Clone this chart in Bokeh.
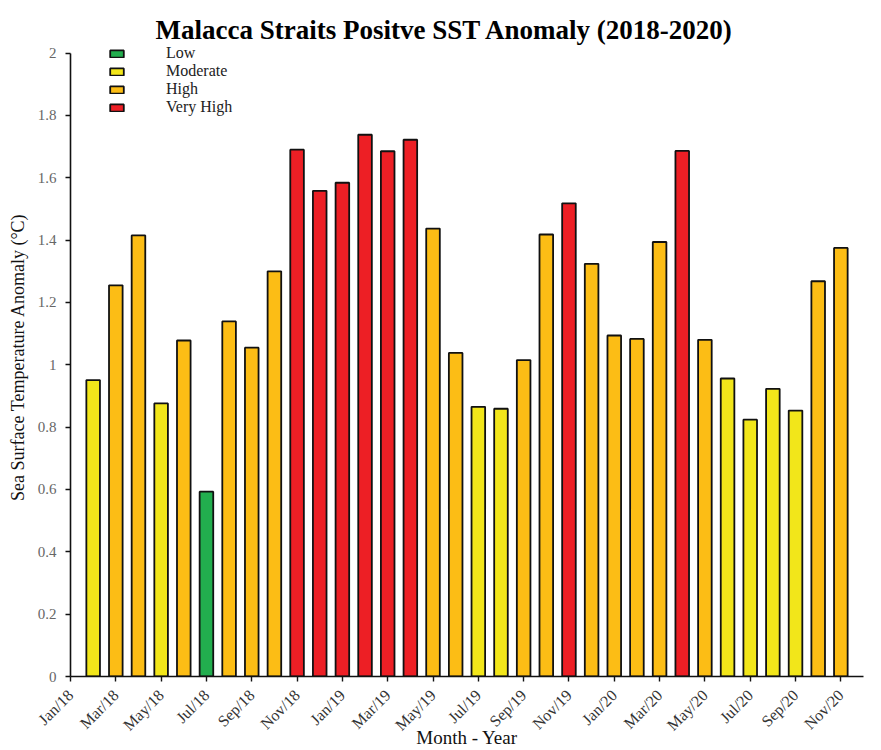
import math
from bokeh.plotting import figure
from bokeh.models import Range1d, FixedTicker, Legend, LegendItem
from bokeh.embed import file_html
from bokeh.resources import INLINE

# ---- data ----
month_abbr = ["Jan", "Feb", "Mar", "Apr", "May", "Jun",
              "Jul", "Aug", "Sep", "Oct", "Nov", "Dec"]
years = ["18", "19", "20"]
period_labels = [f"{m}/{y}" for y in years for m in month_abbr]

bar_months = ["Feb/18", "Mar/18", "Apr/18", "May/18", "Jun/18", "Jul/18",
              "Aug/18", "Sep/18", "Oct/18", "Nov/18", "Dec/18", "Jan/19",
              "Feb/19", "Mar/19", "Apr/19", "May/19", "Jun/19", "Jul/19",
              "Aug/19", "Sep/19", "Oct/19", "Nov/19", "Dec/19", "Jan/20",
              "Feb/20", "Mar/20", "Apr/20", "May/20", "Jun/20", "Jul/20",
              "Aug/20", "Sep/20", "Oct/20", "Nov/20"]
anomaly = [0.951, 1.255, 1.415, 0.876, 1.078, 0.593,
           1.139, 1.055, 1.300, 1.690, 1.558, 1.584,
           1.738, 1.685, 1.722, 1.437, 1.038, 0.865,
           0.859, 1.015, 1.418, 1.518, 1.324, 1.094,
           1.083, 1.394, 1.686, 1.080, 0.956, 0.824,
           0.923, 0.853, 1.268, 1.375]
level = ["Moderate", "High", "High", "Moderate", "High", "Low",
         "High", "High", "High", "Very High", "Very High", "Very High",
         "Very High", "Very High", "Very High", "High", "High", "Moderate",
         "Moderate", "High", "High", "Very High", "High", "High",
         "High", "High", "Very High", "High", "Moderate", "Moderate",
         "Moderate", "Moderate", "High", "High"]

levels = ["Low", "Moderate", "High", "Very High"]
level_colors = ["#22AE4E", "#F2E61A", "#FCBD15", "#ED1F25"]

x_tick_labels = ["Jan/18", "Mar/18", "May/18", "Jul/18", "Sep/18", "Nov/18",
                 "Jan/19", "Mar/19", "May/19", "Jul/19", "Sep/19", "Nov/19",
                 "Jan/20", "Mar/20", "May/20", "Jul/20", "Sep/20", "Nov/20"]
y_ticks = [0, 0.2, 0.4, 0.6, 0.8, 1.0, 1.2, 1.4, 1.6, 1.8, 2.0]
y_tick_labels = ["0", "0.2", "0.4", "0.6", "0.8", "1", "1.2", "1.4", "1.6", "1.8", "2"]

# ---- figure ----
SERIF = "Liberation Serif"

p = figure(width=873, height=750, output_backend="svg", toolbar_location=None,
           x_range=Range1d(0, len(period_labels) - 1), y_range=Range1d(0, 2.05),
           min_border_left=70, min_border_right=10, min_border_top=37,
           min_border_bottom=73)
p.outline_line_color = None
p.xgrid.visible = False
p.ygrid.visible = False

p.title.text = "Malacca Straits Positve SST Anomaly (2018-2020)"
p.title.text_font = SERIF
p.title.text_font_size = "27px"
p.title.text_font_style = "bold"
p.title.text_color = "#000000"
p.title.align = "left"
p.title.offset = 85
p.title.standoff = -15

items = []
for lv, col in zip(levels, level_colors):
    xs = [period_labels.index(m) for m, l in zip(bar_months, level) if l == lv]
    tops = [v for v, l in zip(anomaly, level) if l == lv]
    r = p.vbar(x=xs, top=tops, bottom=0, width=0.6, fill_color=col,
               line_color="#111111", line_width=1.8)
    items.append(LegendItem(label=lv, renderers=[r]))

legend = Legend(items=items, location=(38, 560), border_line_color=None,
                background_fill_alpha=0, padding=0, margin=0, spacing=0,
                glyph_width=17, glyph_height=9, label_height=17,
                label_standoff=41, label_text_font=SERIF,
                label_text_font_size="16px", label_text_color="#222222")
p.add_layout(legend, "center")

# axes
tick_pos = [period_labels.index(t) for t in x_tick_labels]
p.xaxis.ticker = FixedTicker(ticks=tick_pos)
p.xaxis.major_label_overrides = {t: l for t, l in zip(tick_pos, x_tick_labels)}
p.xaxis.major_label_orientation = math.pi / 4
p.yaxis.ticker = FixedTicker(ticks=y_ticks)
p.yaxis.major_label_overrides = {t: l for t, l in zip(y_ticks, y_tick_labels)}
p.yaxis.bounds = (0, 2)

for ax in (p.xaxis[0], p.yaxis[0]):
    ax.axis_line_color = "#111111"
    ax.axis_line_width = 1.6
    ax.major_tick_line_color = "#111111"
    ax.major_tick_line_width = 1.4
    ax.major_tick_in = 0
    ax.major_tick_out = 5
    ax.minor_tick_line_color = None
    ax.major_label_text_font = SERIF
    ax.axis_label_text_font = SERIF
    ax.axis_label_text_font_style = "normal"
    ax.axis_label_text_color = "#111111"

p.yaxis.major_label_text_font_size = "15px"
p.xaxis.major_label_text_font_size = "16px"
p.yaxis.major_label_text_color = "#666666"
p.xaxis.major_label_text_color = "#333333"
p.yaxis.major_label_standoff = 9
p.xaxis.major_label_standoff = 11
p.yaxis.axis_label = "Sea Surface Temperature Anomaly (°C)"
p.yaxis.axis_label_text_font_size = "18px"
p.yaxis.axis_label_standoff = 7
p.xaxis.axis_label = "Month - Year"
p.xaxis.axis_label_text_font_size = "19px"
p.xaxis.axis_label_standoff = -16

open("out.html", "w").write(file_html(p, INLINE))
